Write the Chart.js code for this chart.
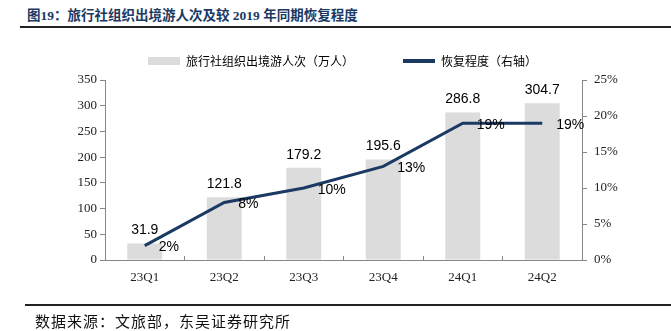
<!DOCTYPE html>
<html>
<head>
<meta charset="utf-8">
<script src="https://cdn.jsdelivr.net/npm/chart.js@4"></script>
<style>
  html, body { margin: 0; padding: 0; background: #fff; }
  #wrap { position: relative; width: 671px; height: 331px; overflow: hidden; }
  #title {
    position: absolute; left: 27px; top: 4px;
    font: bold 13.5px "Liberation Serif", "Noto Sans CJK SC", serif;
    color: #1a3a64; white-space: nowrap;
  }
  .rule { position: absolute; right: 0; height: 2px; background: #222; }
  #source {
    position: absolute; left: 35px; top: 310px;
    font: 15px "Noto Sans CJK SC", sans-serif; letter-spacing: 1px;
    color: #111; white-space: nowrap;
  }
  #statusChart { position: absolute; left: 0; top: 0; }
</style>
</head>
<body>
<div id="wrap">
  <div id="title">图19：旅行社组织出境游人次及较 2019 年同期恢复程度</div>
  <div class="rule" style="left:20px; top:26px;"></div>
  <canvas id="statusChart" width="671" height="331"></canvas>
  <div class="rule" style="left:25px; top:304px;"></div>
  <div id="source">数据来源：文旅部，东吴证券研究所</div>
</div>
<script>
// Quarters and series
const quarters = ["23Q1", "23Q2", "23Q3", "23Q4", "24Q1", "24Q2"];
const tripCounts = [31.9, 121.8, 179.2, 195.6, 286.8, 304.7];   // 万人
const recoveryPct = [2, 8, 10, 13, 19, 19];                      // % vs 2019
const leftTicks = [0, 50, 100, 150, 200, 250, 300, 350];
const rightTicks = [0, 5, 10, 15, 20, 25];

const barColor = "#dcdcdc";
const lineColor = "#1a3a64";
const axisColor = "#868686";

const ctx = document.getElementById("statusChart").getContext("2d");

// Fixed legend band height so the plot starts at the same spot
const legendHeight = {
  id: "legendHeight",
  afterInit(chart) {
    const legend = chart.legend;
    const fit = legend.fit;
    legend.fit = function () {
      fit.call(this);
      this.height = 74;
    };
  }
};

// Value labels over bars and beside line points
const valueLabels = {
  id: "valueLabels",
  afterDatasetsDraw(chart) {
    const c = chart.ctx;
    c.save();
    c.font = "14px 'Liberation Sans', Arial, sans-serif";
    c.fillStyle = "#000";
    c.textBaseline = "middle";

    // dataset 1 = bars
    c.textAlign = "center";
    chart.getDatasetMeta(1).data.forEach((el, i) => {
      c.fillText(tripCounts[i].toFixed(1), el.x, el.y - 13);
    });

    // dataset 0 = recovery line
    c.textAlign = "left";
    chart.getDatasetMeta(0).data.forEach((el, i) => {
      c.fillText(recoveryPct[i] + "%", el.x + 14, el.y + 2);
    });
    c.restore();
  }
};

let statusChart = new Chart(ctx, {
  data: {
    labels: quarters,
    datasets: [
      {
        type: "line",
        label: "恢复程度（右轴）",
        data: recoveryPct,
        yAxisID: "y1",
        borderColor: lineColor,
        backgroundColor: lineColor,
        borderWidth: 3,
        pointRadius: 0,
        tension: 0,
        order: 0
      },
      {
        type: "bar",
        label: "旅行社组织出境游人次（万人）",
        data: tripCounts,
        yAxisID: "y",
        backgroundColor: barColor,
        borderWidth: 0,
        categoryPercentage: 1,
        barPercentage: 0.44,
        order: 1
      }
    ]
  },
  options: {
    responsive: false,
    animation: false,
    layout: { padding: { left: 14, right: 0, top: 6, bottom: 0 } },
    plugins: {
      legend: {
        position: "top",
        reverse: true,
        labels: {
          font: { family: "'Noto Sans CJK SC', sans-serif", size: 12 },
          color: "#222",
          padding: 49,
          usePointStyle: true,
          pointStyleWidth: 32,
          boxHeight: 8,
          generateLabels(chart) {
            return chart.data.datasets.map((ds, i) => ({
              text: ds.label,
              datasetIndex: i,
              fillStyle: ds.type === "bar" ? barColor : lineColor,
              strokeStyle: ds.type === "bar" ? barColor : lineColor,
              lineWidth: ds.type === "bar" ? 0 : 4,
              pointStyle: ds.type === "bar" ? "rect" : "line",
              hidden: false
            }));
          }
        }
      },
      tooltip: { enabled: false }
    },
    scales: {
      x: {
        offset: true,
        grid: {
          offset: true,
          drawOnChartArea: false,
          drawTicks: true,
          tickLength: -4,
          color: axisColor
        },
        border: { color: axisColor, width: 1 },
        ticks: {
          font: { family: "'Liberation Serif', serif", size: 13 },
          color: "#222",
          padding: 14
        },
        afterFit(scale) { scale.height = 71; }
      },
      y: {
        position: "left",
        min: 0,
        max: 350,
        grid: { drawOnChartArea: false, tickLength: 5, color: axisColor },
        border: { color: axisColor, width: 1 },
        afterBuildTicks(scale) { scale.ticks = leftTicks.map(v => ({ value: v })); },
        ticks: {
          font: { family: "'Liberation Serif', serif", size: 13 },
          color: "#222",
          padding: 3
        },
        afterFit(scale) { scale.width = 91; }
      },
      y1: {
        position: "right",
        min: 0,
        max: 25,
        grid: { drawOnChartArea: false, tickLength: 5, color: axisColor },
        border: { color: axisColor, width: 1 },
        afterBuildTicks(scale) { scale.ticks = rightTicks.map(v => ({ value: v })); },
        ticks: {
          font: { family: "'Liberation Serif', serif", size: 13 },
          color: "#222",
          padding: 7,
          callback: v => v + "%"
        },
        afterFit(scale) { scale.width = 89; }
      }
    }
  },
  plugins: [legendHeight, valueLabels]
});
</script>
</body>
</html>
